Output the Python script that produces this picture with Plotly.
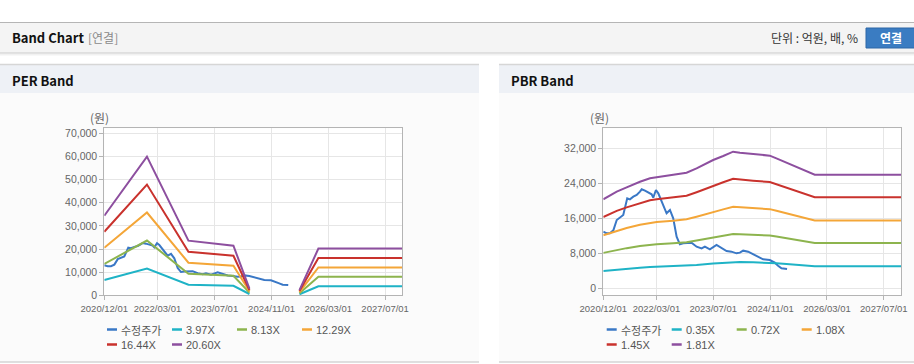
import plotly.graph_objects as go

W, H = 914, 364

# ---------------- data ----------------
price_dates = ["2020-12-01", "2020-12-30", "2021-01-27", "2021-02-25", "2021-03-26", "2021-04-23",
               "2021-05-21", "2021-06-24", "2021-07-17", "2021-08-15", "2021-09-13", "2021-10-11",
               "2021-10-26", "2021-11-23", "2021-12-21", "2022-01-19", "2022-02-02", "2022-02-25",
               "2022-03-17", "2022-04-15", "2022-05-13", "2022-05-27", "2022-06-25", "2022-07-23",
               "2022-08-21", "2022-09-18", "2022-10-16", "2022-11-14", "2022-12-27", "2023-02-08",
               "2023-03-23", "2023-04-20", "2023-06-02", "2023-07-29", "2023-09-10", "2023-10-23",
               "2023-12-04", "2024-01-16", "2024-02-14", "2024-03-13", "2024-04-25", "2024-06-06",
               "2024-07-19", "2024-08-31", "2024-10-27", "2024-12-09", "2025-01-06", "2025-02-04",
               "2025-03-24"]
price = [12945, 12565, 12565, 13250, 15611, 16221,
         16754, 20564, 20335, 20945, 21326, 22087,
         22621, 22316, 21859, 21478, 20716, 22469,
         21707, 19801, 18278, 17135, 17897, 15992,
         11802, 10050, 10279, 10279, 10431, 9516,
         9136, 9516, 8907, 9898, 9136, 8526,
         8373, 7992, 8145, 8602, 8373, 7840,
         7230, 6621, 6469, 5859, 5173, 4564,
         4412]

# EPS (per-share earnings) used for PER band lines; None = gap
eps_dates = ["2020-12-01", "2021-12-01", "2022-11-21", "2023-12-11", "2024-04-26",
             "2025-01-01", "2025-06-28", "2025-12-07", "2027-12-01"]
eps = [1670, 2910, 1146, 1040, 140, None, 110, 980, 980]
per_multiples = [3.97, 8.13, 12.29, 16.44, 20.60]

# BPS (book value per share) used for PBR band lines
bps_dates = ["2020-12-01", "2021-03-26", "2021-06-19", "2021-10-11", "2022-01-05", "2022-03-03",
             "2022-07-23", "2022-11-14", "2023-02-08", "2023-06-30", "2023-09-24", "2023-12-18",
             "2024-02-14", "2024-06-06", "2024-10-27", "2024-12-23", "2025-03-19", "2025-08-08",
             "2025-11-16", "2027-12-01"]
bps = [11240, 12200, 12750, 13460, 13890, 14020,
       14310, 14600, 15150, 16200, 16710, 17250,
       17130, 16960, 16750, 16410, 15860, 14940,
       14350, 14350]
pbr_multiples = [0.35, 0.72, 1.08, 1.45, 1.81]

tick_dates = ["2020-12-01", "2022-03-01", "2023-07-01", "2024-11-01", "2026-03-01", "2027-07-01"]
tick_labels = ["2020/12/01", "2022/03/01", "2023/07/01", "2024/11/01", "2026/03/01", "2027/07/01"]
per_yticks = [0, 10000, 20000, 30000, 40000, 50000, 60000, 70000]
pbr_yticks = [0, 8000, 16000, 24000, 32000]

price_name = "수정주가"
colors = ["#3a78c6", "#1fb3c6", "#8db44e", "#f4a638", "#c9322d", "#8d4f9f"]

# ---------------- helpers ----------------
def px(x):
    return x / W

def py(y):
    return 1 - y / H

fig = go.Figure()

# PER traces
fig.add_trace(go.Scatter(x=price_dates, y=price, mode="lines", name=price_name,
                         line=dict(color=colors[0], width=2), xaxis="x", yaxis="y",
                         showlegend=False))
for i, m in enumerate(per_multiples):
    fig.add_trace(go.Scatter(x=eps_dates, y=[None if e is None else e * m for e in eps],
                             mode="lines", name=f"{m:.2f}X", connectgaps=False,
                             line=dict(color=colors[i + 1], width=2), xaxis="x", yaxis="y",
                             showlegend=False))
# PBR traces
fig.add_trace(go.Scatter(x=price_dates, y=price, mode="lines", name=price_name,
                         line=dict(color=colors[0], width=2), xaxis="x2", yaxis="y2",
                         showlegend=False))
for i, m in enumerate(pbr_multiples):
    fig.add_trace(go.Scatter(x=bps_dates, y=[b * m for b in bps],
                             mode="lines", name=f"{m:.2f}X",
                             line=dict(color=colors[i + 1], width=2), xaxis="x2", yaxis="y2",
                             showlegend=False))

font_xtick = dict(family="Liberation Sans, Arial, sans-serif", size=9.5, color="#666666")
font_ytick = dict(family="Liberation Sans, Arial, sans-serif", size=10.5, color="#666666")

xcommon = dict(type="date", tickvals=tick_dates, ticktext=tick_labels, showgrid=True,
               gridcolor="#e6e6e6", gridwidth=1, showline=True, linecolor="#b4b4b4",
               linewidth=1, mirror=True, ticks="outside", ticklen=4, tickcolor="#b4b4b4",
               tickfont=font_xtick, tickangle=0, zeroline=False, automargin=False,
               range=["2020-12-01", "2027-11-25"])
ycommon = dict(showgrid=True, gridcolor="#e6e6e6", gridwidth=1, showline=True,
               linecolor="#b4b4b4", linewidth=1, mirror=True, ticks="outside", ticklen=4,
               tickcolor="#b4b4b4", tickfont=font_ytick, zeroline=False, automargin=False,
               tickformat=",d")

y_dom = [py(295.3), py(128.3)]
fig.update_layout(
    width=W, height=H,
    margin=dict(l=0, r=0, t=0, b=0, pad=0),
    paper_bgcolor="white", plot_bgcolor="white",
    xaxis=dict(xcommon, domain=[px(104.3), px(402.3)], anchor="y"),
    yaxis=dict(ycommon, domain=y_dom, anchor="x", range=[0, 72160], tickvals=per_yticks),
    xaxis2=dict(xcommon, domain=[px(603.3), px(901)], anchor="y2"),
    yaxis2=dict(ycommon, domain=y_dom, anchor="x2", range=[-1600, 36570], tickvals=pbr_yticks),
)

shapes = []
annos = []

def rect(x0, y0, x1, y1, fill, line=None, layer="below"):
    shapes.append(dict(type="rect", xref="paper", yref="paper", x0=px(x0), x1=px(x1),
                       y0=py(y1), y1=py(y0), fillcolor=fill, layer=layer,
                       line=dict(width=0) if line is None else line))

def hline(x0, x1, y, color, width=1):
    shapes.append(dict(type="line", xref="paper", yref="paper", x0=px(x0), x1=px(x1),
                       y0=py(y), y1=py(y), line=dict(color=color, width=width), layer="below"))

def text(x, y, s, size=12, color="#333", bold=False, anchor="left",
         family="Noto Sans CJK KR, Noto Sans, sans-serif"):
    if bold:
        s = f"<b>{s}</b>"
    annos.append(dict(xref="paper", yref="paper", x=px(x), y=py(y), text=s, showarrow=False,
                      xanchor=anchor, yanchor="middle", borderpad=0,
                      font=dict(family=family, size=size, color=color)))

# top header bar
rect(0, 22.5, 914, 52.5, "#f4f4f4")
hline(0, 914, 22.5, "#b5b5b5")
hline(0, 914, 53, "#c4c4c4")
hline(0, 914, 54, "#e2e2e2")
hline(0, 914, 55, "#f2f2f2")
text(11, 38, "Band Chart", size=13, color="#111", bold=True)
text(87, 38, "[연결]", size=12, color="#8a8a8a")
text(859, 38, "단위 : 억원, 배, %", size=12, color="#333", anchor="right")
shapes.append(dict(type="rect", xref="paper", yref="paper", x0=px(866), x1=px(918),
                   y0=py(48), y1=py(28), fillcolor="#3a7cc2",
                   line=dict(color="#2c66a6", width=1), layer="above"))
text(891, 38, "연결", size=12, color="white", bold=True, anchor="center")

# panels
for (x0, x1, title) in [(0, 479, "PER Band"), (499, 914, "PBR Band")]:
    rect(x0, 93, x1, 362, "#fbfbfb")
    rect(x0, 64.5, x1, 93, "#eef1f6")
    hline(x0, x1, 64.5, "#d6d6d6", 1.5)
    hline(x0, x1, 362, "#d4d4d4", 1.5)
    text(x0 + 11, 80, title, size=13, color="#111", bold=True)

# white plot areas
rect(104.3, 128.3, 402.3, 295.3, "white")
rect(603.3, 128.3, 901, 295.3, "white")

# axis titles
text(99, 118, "(원)", size=12, color="#666", anchor="center")
text(599, 118, "(원)", size=12, color="#666", anchor="center")

# legends (manual)
def legend(x0, names):
    pos = [(x0, 329.5), (x0 + 65, 329.5), (x0 + 130, 329.5), (x0 + 195, 329.5),
           (x0, 344.5), (x0 + 65, 344.5)]
    for (lx, ly), nm, c in zip(pos, names, colors):
        shapes.append(dict(type="line", xref="paper", yref="paper", x0=px(lx), x1=px(lx + 10),
                           y0=py(ly), y1=py(ly), line=dict(color=c, width=2.5), layer="above"))
        fam = ("Noto Sans CJK KR, sans-serif" if nm == price_name
               else "Liberation Sans, Arial, sans-serif")
        text(lx + 13, ly, nm, size=11, color="#555", family=fam)

legend(107, [price_name] + [f"{m:.2f}X" for m in per_multiples])
legend(606.7, [price_name] + [f"{m:.2f}X" for m in pbr_multiples])

fig.update_layout(shapes=shapes, annotations=annos)

fig.write_html("out.html", config={"displayModeBar": False},
               post_script="document.body.style.margin='0';document.body.style.overflow='hidden';")
